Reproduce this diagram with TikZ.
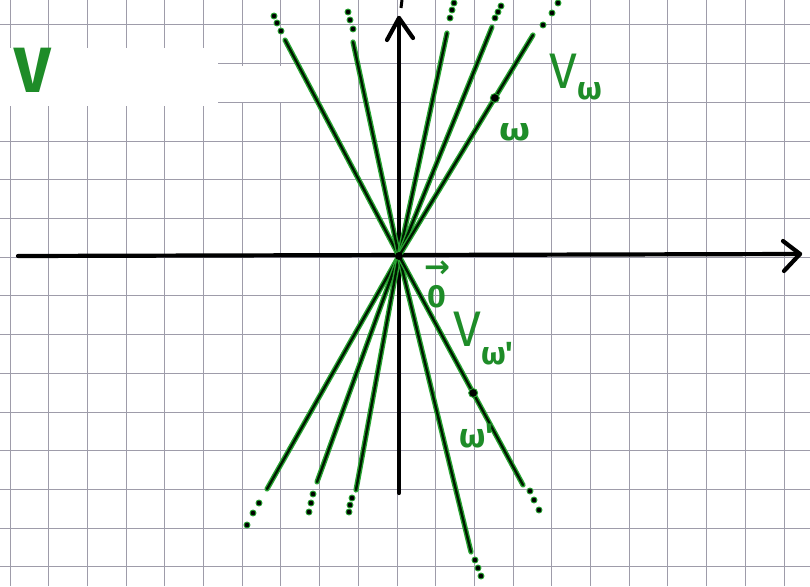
\documentclass[tikz,border=0pt]{standalone}
\usepackage{fontspec}
\setmainfont{Fira Sans}
\newfontfamily\arrowfont{DejaVu Sans}
\usetikzlibrary{calc}
\definecolor{gridc}{RGB}{158,156,170}
\definecolor{ink}{RGB}{40,165,50}
\definecolor{inkt}{RGB}{30,140,40}
\tikzset{
  gridline/.style={draw=gridc, line width=1pt},
  axisline/.style={draw=black, line width=4.2pt, line cap=round, line join=round},
  gline/.style={draw=black!90!green, line width=2.4pt, line cap=round,
                preaction={draw=ink, line width=5.2pt, line cap=round}},
  gdot/.style={circle, fill=black, draw=ink, line width=0.9pt, inner sep=0pt, minimum size=6pt},
  pdot/.style={circle, fill=black, draw=ink, line width=0.9pt, inner sep=0pt, minimum size=9pt},
  odot/.style={circle, fill=black, inner sep=0pt, minimum size=8pt},
  lbl/.style={text=inkt, inner sep=0pt, anchor=base west}
}
\begin{document}
\begin{tikzpicture}[x=1pt,y=-1pt]
\useasboundingbox (0,0) rectangle (810,586);
\fill[white] (0,0) rectangle (810,586);
% graph paper
\foreach \k in {0,...,20} \draw[gridline] ({10+38.7*\k},0) -- ({10+38.7*\k},586);
\foreach \j in {0,...,14} \draw[gridline] (0,{25+38.7*\j}) -- (810,{25+38.7*\j});
% erased patch
\fill[white] (0,48) rectangle (218,106);
\fill[white] (218,66) rectangle (281,102);
% axes
\coordinate (O) at (399,256);
\coordinate (xl) at (18,256);
\coordinate (xr) at (800,254);
\coordinate (xa1) at (783,241);
\coordinate (xa2) at (784,271);
\coordinate (yb) at (399,493);
\coordinate (yt) at (399,18);
\coordinate (ya1) at (387,40);
\coordinate (ya2) at (413,38);
\coordinate (tk1) at (402,0);
\coordinate (tk2) at (401,8);
\draw[axisline] (xl) -- (xr);
\draw[axisline] (xa1) -- (xr) -- (xa2);
\draw[axisline] (yb) -- (yt);
\draw[axisline] (ya1) -- (yt) -- (ya2);
\draw[draw=black, line width=3pt] (tk1) -- (tk2);
% green lines with dotted continuations
\foreach \n/\e/\a/\b/\c in {
  u1/{285,40}/{281,31}/{277,23}/{274,16},
  u2/{353,42}/{353,29}/{350,20}/{348,12},
  u3/{447,33}/{450,18}/{452,10}/{454,3},
  u4/{492,27}/{495,18}/{498,12}/{501,6},
  u5/{533,35}/{543,25}/{552,13}/{558,3},
  l1/{267,489}/{259,503}/{253,513}/{247,525},
  l2/{317,482}/{313,494}/{311,503}/{309,512},
  l3/{356,490}/{352,498}/{350,505}/{349,512},
  l4/{471,552}/{475,560}/{478,568}/{481,576},
  l5/{523,485}/{530,491}/{534,500}/{539,510}}{
  \coordinate (\n) at (\e);
  \draw[gline] (O) -- (\n);
  \node[gdot] (\n a) at (\a) {};
  \node[gdot] (\n b) at (\b) {};
  \node[gdot] (\n c) at (\c) {};
}
\node[odot] (Odot) at (O) {};
% points
\node[pdot] (w) at ($(O)!0.715!(u5)$) {};
\node[pdot] (w2) at ($(O)!0.598!(l5)$) {};
% labels
\node[lbl, font=\bfseries] (Vlab) at (14,92) {\fontsize{64}{64}\selectfont V};
\node[lbl] (Vw) at (549,88) {\fontsize{50}{50}\selectfont V\raisebox{-11pt}{\fontsize{32}{32}\selectfont\bfseries ω}};
\node[lbl, font=\bfseries] (wl) at (499,140) {\fontsize{32}{32}\selectfont\scalebox{1.25}[1]{ω}};
\node[lbl] (Vw2) at (453,346) {\fontsize{50}{50}\selectfont V\raisebox{-18pt}{\fontsize{32}{32}\selectfont\bfseries ω\textquotesingle}};
\node[lbl, font=\bfseries] (wl2) at (459,447) {\fontsize{34}{34}\selectfont ω\textquotesingle};
\node[text=inkt, inner sep=0pt, anchor=base] (zero) at (437,307) {\fontsize{32}{32}\selectfont\bfseries\ooalign{\hfil\raisebox{30pt}{\fontsize{31}{31}\selectfont\arrowfont →}\hfil\cr\hfil 0\hfil\cr}};
\end{tikzpicture}
\end{document}
